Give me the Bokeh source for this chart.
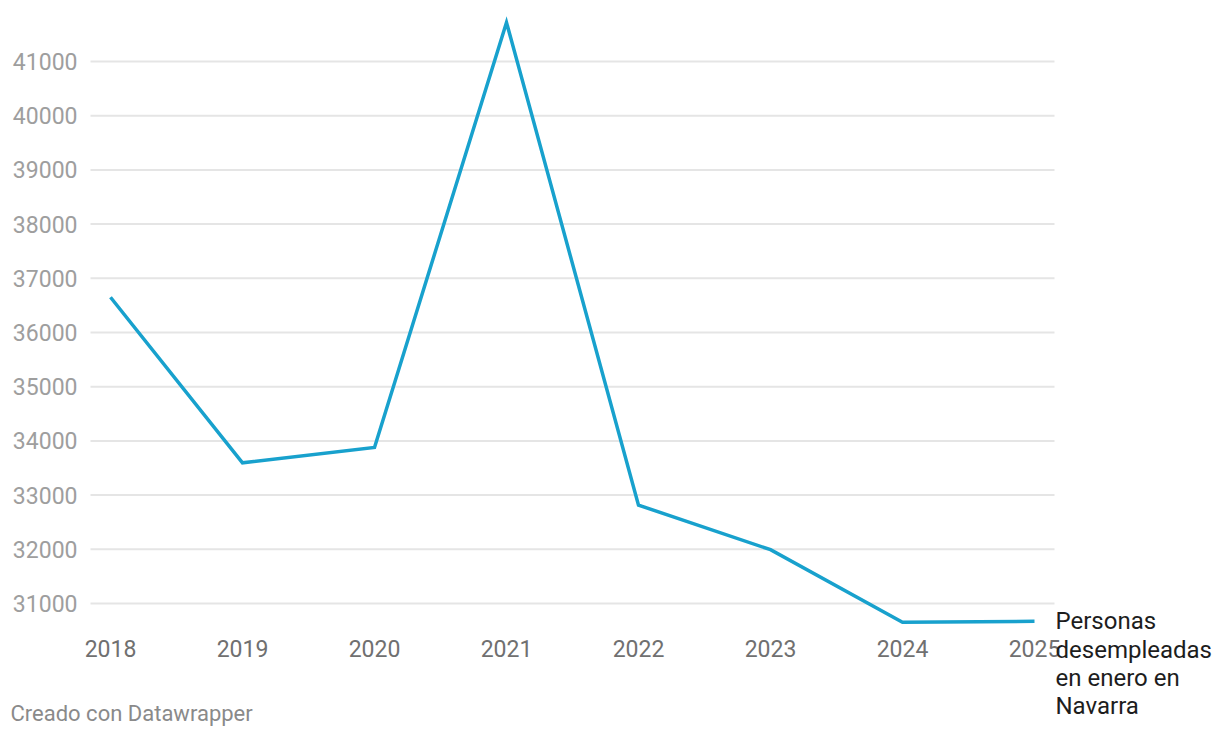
from bokeh.plotting import figure
from bokeh.models import Range1d, Label, LabelSet, ColumnDataSource
from bokeh.core.properties import value
from bokeh.embed import file_html
from bokeh.resources import INLINE

# ---- data ----
years = [2018, 2019, 2020, 2021, 2022, 2023, 2024, 2025]
values = [36650, 33595, 33880, 41720, 32815, 31993, 30655, 30672]
y_ticks = [31000, 32000, 33000, 34000, 35000, 36000, 37000, 38000, 39000, 40000, 41000]
x_tick_labels = ["2018", "2019", "2020", "2021", "2022", "2023", "2024", "2025"]
y_tick_labels = ["31000", "32000", "33000", "34000", "35000", "36000", "37000",
                 "38000", "39000", "40000", "41000"]
series_label = ["Personas", "desempleadas", "en enero en", "Navarra"]
footer = "Creado con Datawrapper"

FONT = "Roboto"
LINE_COLOR = "#18a1cd"

# ---- layout (pixels) ----
W, H = 1212, 730
FIRST_X = 110          # pixel position of the first year
BASE_Y = 603           # pixel position (from top) of the lowest tick
PX_PER_YEAR = 132.0
PX_PER_UNIT = 0.0542
PAD = 20 / PX_PER_YEAR  # gridline overhang beyond first/last point

x0 = years[0] - FIRST_X / PX_PER_YEAR
x1 = x0 + W / PX_PER_YEAR
y_hi = y_ticks[0] + BASE_Y / PX_PER_UNIT
y_lo = y_ticks[0] - (H - BASE_Y) / PX_PER_UNIT

p = figure(
    width=W, height=H,
    output_backend="svg", toolbar_location=None,
    x_range=Range1d(x0, x1), y_range=Range1d(y_lo, y_hi),
    min_border=0, x_axis_type=None, y_axis_type=None,
)
p.outline_line_color = None
p.background_fill_color = "white"
p.border_fill_color = "white"
p.grid.visible = False

# horizontal gridlines
n = len(y_ticks)
grid_src = ColumnDataSource(dict(
    x0=[years[0] - PAD] * n, x1=[years[-1] + PAD] * n, y=y_ticks, label=y_tick_labels))
p.segment(x0="x0", y0="y", x1="x1", y1="y", source=grid_src,
          line_color="#e5e5e5", line_width=2)

# y tick labels (left of the gridlines)
p.add_layout(LabelSet(
    x="x0", y="y", text="label", source=grid_src, x_offset=-13,
    text_align="right", text_baseline="middle",
    text_font=value(FONT), text_font_size=value("23px"), text_color=value("#9e9e9e"),
))

# x tick labels (below the lowest gridline)
xl_src = ColumnDataSource(dict(x=years, y=[y_ticks[0]] * len(years), label=x_tick_labels))
p.add_layout(LabelSet(
    x="x", y="y", text="label", source=xl_src, y_offset=-45,
    text_align="center", text_baseline="middle",
    text_font=value(FONT), text_font_size=value("23px"), text_color=value("#707070"),
))

# line
src = ColumnDataSource(dict(x=years, y=values))
p.line("x", "y", source=src, line_color=LINE_COLOR, line_width=3.5, line_join="miter")

# series label, next to the last point
for i, t in enumerate(series_label):
    p.add_layout(Label(
        x=years[-1], y=values[-1], x_offset=21, y_offset=-28.3 * i,
        text=t, text_font=FONT, text_font_size="24px", text_color="#1d1d1d",
        text_baseline="middle", text_align="left",
    ))

# footer
p.add_layout(Label(
    x=10, y=H - 713, x_units="screen", y_units="screen",
    text=footer, text_font=FONT, text_font_size="22px", text_color="#8a8a8a",
    text_baseline="middle", text_align="left",
))

open("out.html", "w").write(file_html(p, INLINE))
